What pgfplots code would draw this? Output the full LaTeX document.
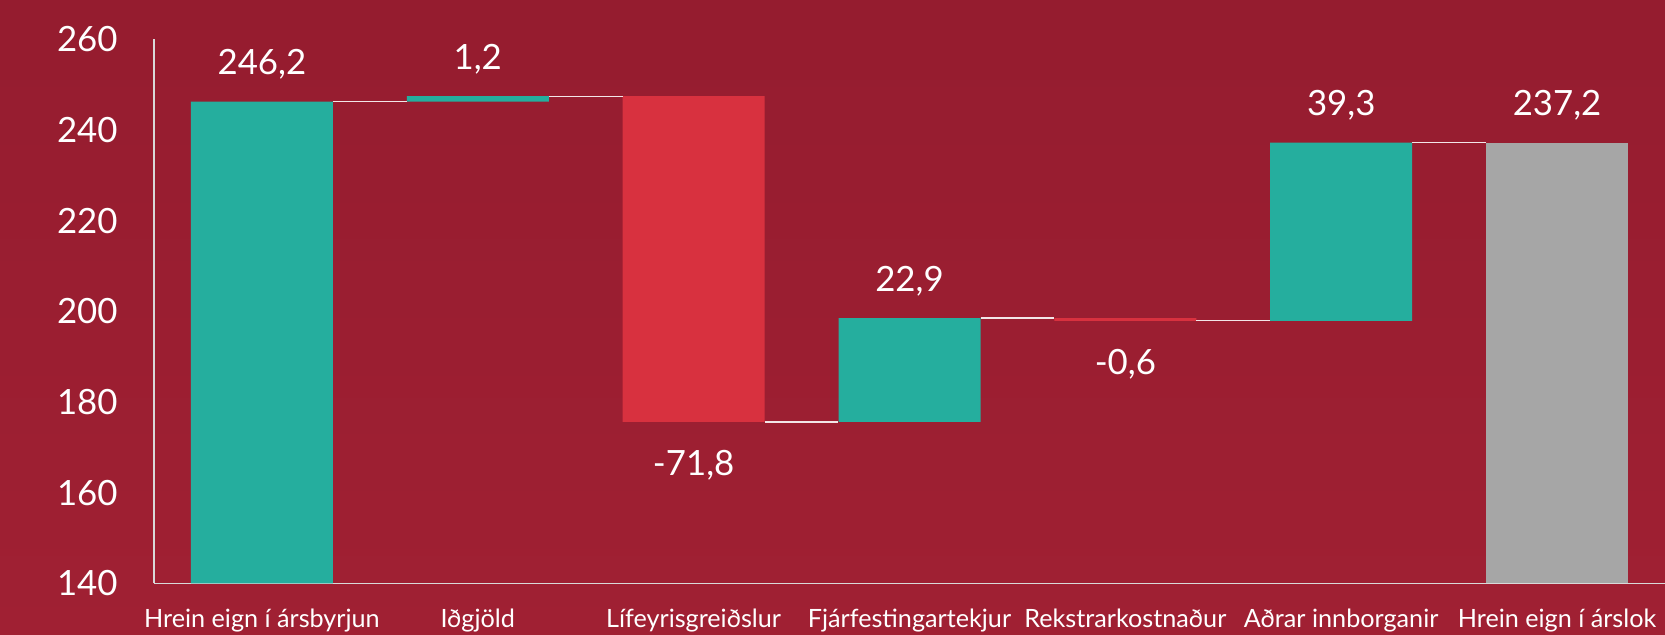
\documentclass[border=0pt]{standalone}
\usepackage{fontspec}
\setmainfont{Lato}
\usepackage{pgfplots}
\pgfplotsset{compat=1.18}
\definecolor{bgtop}{HTML}{951C2F}
\definecolor{bgbot}{HTML}{A02033}
\definecolor{wfteal}{HTML}{25AE9E}
\definecolor{wfred}{HTML}{D8313F}
\definecolor{wfgray}{HTML}{A6A6A6}
\definecolor{axgray}{HTML}{D9D9D9}
\definecolor{conn}{HTML}{F3E6E8}
\pgfplotsset{
  common/.style={
    at={(77pt,25.75pt)}, anchor=south west, scale only axis,
    width=755.5pt, height=272.2pt,
    xmin=-0.5, xmax=6.5, ymin=140, ymax=260, clip=false,
  }
}
\begin{document}
\begin{tikzpicture}
\shade[top color=bgtop, bottom color=bgbot] (0,0) rectangle (832.5pt,317.5pt);
\begin{axis}[common, ybar stacked, bar width=71pt,
  axis x line*=bottom, axis y line*=left,
  axis line style={axgray, line width=0.75pt},
  ytick={140,160,...,260}, major tick length=0,
  xtick={0,...,6},
  xticklabels={Hrein eign í ársbyrjun, Iðgjöld, Lífeyrisgreiðslur, Fjárfestingartekjur, Rekstrarkostnaður, Aðrar innborganir, Hrein eign í árslok},
  tick label style={white, inner sep=0pt},
  yticklabel style={font=\fontsize{17.4}{20}\selectfont, anchor=east, xshift=-18pt},
  xticklabel style={font=\fontsize{12.6}{14}\selectfont, anchor=base, yshift=-22pt},
  /pgf/number format/assume math mode=true,
]
\addplot[draw=none, fill=none] coordinates {(0,140) (1,246.2) (2,175.6) (3,175.6) (4,197.9) (5,197.9) (6,140)};
\addplot[draw=none, fill=wfteal] coordinates {(0,106.2) (1,1.2) (2,0) (3,22.9) (4,0) (5,39.3) (6,0)};
\addplot[draw=none, fill=wfred] coordinates {(0,0) (1,0) (2,71.8) (3,0) (4,0.6) (5,0) (6,0)};
\addplot[draw=none, fill=wfgray] coordinates {(0,0) (1,0) (2,0) (3,0) (4,0) (5,0) (6,97.2)};
\end{axis}
\begin{axis}[common, hide axis]
\addplot[conn, line width=0.6pt] coordinates {(0.329,246.2) (0.671,246.2)};
\addplot[conn, line width=0.6pt] coordinates {(1.329,247.4) (1.671,247.4)};
\addplot[conn, line width=0.6pt] coordinates {(2.329,175.6) (2.671,175.6)};
\addplot[conn, line width=0.6pt] coordinates {(3.329,198.5) (3.671,198.5)};
\addplot[conn, line width=0.6pt] coordinates {(4.329,197.9) (4.671,197.9)};
\addplot[conn, line width=0.6pt] coordinates {(5.329,237.2) (5.671,237.2)};
\addplot[draw=none, nodes near coords, point meta=explicit symbolic,
  every node near coord/.style={font=\fontsize{17.4}{20}\selectfont, white, anchor=base, inner sep=0pt, yshift=13.35pt}]
  coordinates {(0,246.2)[246,2] (1,247.4)[1,2] (3,198.5)[22,9] (5,237.2)[39,3] (6,237.2)[237,2]};
\addplot[draw=none, nodes near coords, point meta=explicit symbolic,
  every node near coord/.style={font=\fontsize{17.4}{20}\selectfont, white, anchor=north, inner sep=0pt, yshift=-14pt}]
  coordinates {(2,175.6)[-71,8] (4,197.9)[-0,6]};
\end{axis}
\pgfresetboundingbox
\path[use as bounding box] (0,0) rectangle (832.5pt,317.5pt);
\end{tikzpicture}
\end{document}
